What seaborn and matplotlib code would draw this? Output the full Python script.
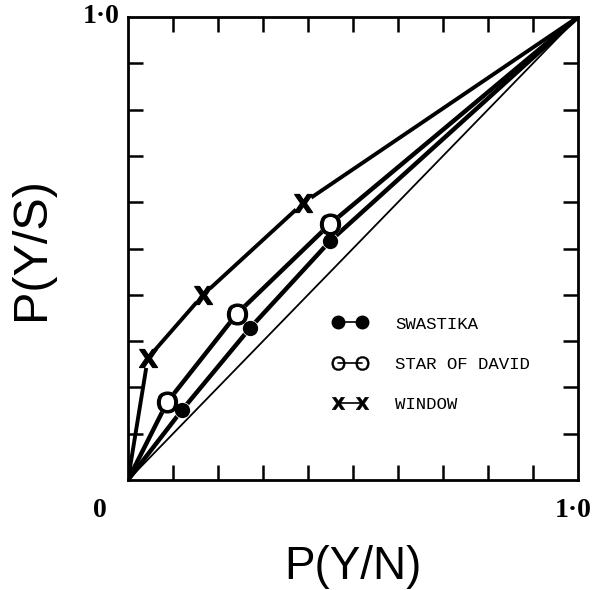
import matplotlib
matplotlib.use("Agg")
import matplotlib.pyplot as plt
from matplotlib.lines import Line2D
import seaborn as sns
import numpy as np
import pandas as pd

# ROC points; curves run from (0,0) to (1,1)
swastika_x = [0.0, 0.12, 0.271, 0.449, 1.0]
swastika_y = [0.0, 0.151, 0.328, 0.516, 1.0]
star_x = [0.0, 0.087, 0.242, 0.449, 1.0]
star_y = [0.0, 0.168, 0.359, 0.553, 1.0]
window_x = [0.0, 0.044, 0.167, 0.389, 1.0]
window_y = [0.0, 0.263, 0.40, 0.598, 1.0]
chance = [0.0, 1.0]

labels = ["SWASTIKA", "STAR OF DAVID", "WINDOW"]

sns.set_style("ticks")
plt.rcParams['font.family'] = ['Liberation Sans', 'DejaVu Sans']
plt.rcParams['text.color'] = 'black'
plt.rcParams['axes.labelcolor'] = 'black'

O_MARK = r'$\mathregular{O}$'
X_MARK = r'$\mathbf{X}$'

fig = plt.figure(figsize=(6.08, 5.90), dpi=100)
ax = fig.add_axes([0.2105, 0.1864, 0.7402, 0.7848])

sns.lineplot(x=chance, y=chance, ax=ax, color='black', linewidth=1.3)

series = [
    (window_x, window_y, X_MARK, 13, 2.8),
    (star_x, star_y, O_MARK, 15, 3.2),
    (swastika_x, swastika_y, 'o', 11, 3.2),
]
for xs, ys, mk, ms, lw in series:
    sns.lineplot(x=xs, y=ys, ax=ax, color='black', linewidth=lw, sort=False)
    # white patch so the curve breaks at each marker
    ax.plot(xs[1:-1], ys[1:-1], linestyle='none', marker='o', markersize=ms,
            markerfacecolor='white', markeredgecolor='white', zorder=3)
    ax.plot(xs[1:-1], ys[1:-1], linestyle='none', marker=mk, markersize=ms,
            color='black', markeredgewidth=0.9 if mk != 'o' else 0, zorder=4)

ax.set_xlim(0, 1)
ax.set_ylim(0, 1)
ticks = np.arange(1, 10) / 10
ax.set_xticks(ticks)
ax.set_yticks(ticks)
ax.set_xticklabels([])
ax.set_yticklabels([])
ax.tick_params(direction='in', length=11, width=1.8, top=True, right=True,
               bottom=True, left=True, color='black')
for s in ax.spines.values():
    s.set_linewidth(2)
    s.set_color('black')

tick_font = dict(family='Liberation Serif', fontweight='bold', fontsize=20)
ax.text(-0.018, 1.0, '1\u00b70', ha='right', va='center', transform=ax.transAxes, **tick_font)
ax.text(-0.062, -0.065, '0', ha='center', va='center', transform=ax.transAxes, **tick_font)
ax.text(0.99, -0.065, '1\u00b70', ha='center', va='center', transform=ax.transAxes, **tick_font)

ax.set_xlabel('P(Y/N)', fontsize=33, labelpad=43)
ax.set_ylabel('P(Y/S)', fontsize=35, labelpad=50)

handles = [
    Line2D([], [], color='black', linewidth=1.2, marker='o', markersize=9),
    Line2D([], [], color='black', linewidth=1.2, marker=O_MARK, markersize=10, markeredgewidth=0.4),
    Line2D([], [], color='black', linewidth=1.2, marker=X_MARK, markersize=9, markeredgewidth=0.4),
]
ax.legend(handles, labels, loc='center left', bbox_to_anchor=(0.42, 0.25),
          frameon=False, numpoints=2, handlelength=2.0, handletextpad=1.6,
          labelspacing=1.45, prop=dict(family='Liberation Mono', size=12.5))

fig.savefig('out.png', dpi=100)
